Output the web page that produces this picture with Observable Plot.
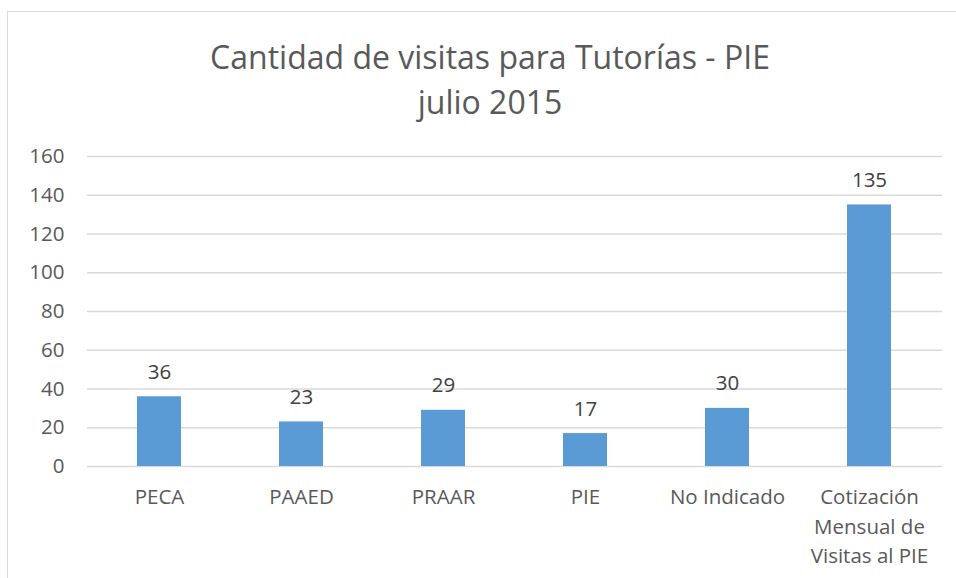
<!DOCTYPE html>
<html>
<head>
<meta charset="utf-8">
<script src="https://cdn.jsdelivr.net/npm/d3@7"></script>
<script src="https://cdn.jsdelivr.net/npm/@observablehq/plot@0.6"></script>
<style>
  html, body { margin: 0; padding: 0; background: #fff; overflow: hidden; width: 956px; height: 578px; }
  #wrap { position: relative; width: 956px; height: 578px; font-family: "Open Sans", sans-serif; }
  #frame { position: absolute; left: 7px; top: 11px; width: 980px; height: 600px; border: 1px solid #d9d9d9; box-sizing: border-box; }
  #title { position: absolute; left: 0; width: 980px; top: 34px; text-align: center; color: #595959; font-size: 32px; line-height: 45px; }
  #chart { position: absolute; left: 0; top: 130px; }
</style>
</head>
<body>
<div id="wrap">
  <div id="frame"></div>
  <div id="title">Cantidad de visitas para Tutorías - PIE<br>julio 2015</div>
  <div id="chart"></div>
</div>
<script>
const categories = ["PECA", "PAAED", "PRAAR", "PIE", "No Indicado", "Cotización\nMensual de\nVisitas al PIE"];
const values = [36, 23, 29, 17, 30, 135];
const yTicks = [0, 20, 40, 60, 80, 100, 120, 140, 160];

const data = categories.map((c, i) => ({category: c, value: values[i]}));

const chart = Plot.plot({
  width: 956,
  height: 448,
  marginLeft: 87,
  marginRight: 14,
  marginTop: 26,
  marginBottom: 112,
  style: {fontFamily: "Open Sans, sans-serif", background: "transparent"},
  x: {domain: categories, paddingInner: 0.69, paddingOuter: 0.345, label: null},
  y: {domain: [0, 160], label: null},
  marks: [
    Plot.ruleY(yTicks, {stroke: "#d9d9d9", strokeWidth: 1.3}),
    Plot.axisY({ticks: yTicks, tickSize: 0, tickPadding: 23, fontSize: 20.5, fill: "#595959", label: null}),
    Plot.axisX({tickSize: 0, tickPadding: 17, fontSize: 20.5, fill: "#595959", lineHeight: 1.44, label: null}),
    Plot.barY(data, {x: "category", y: "value", fill: "#5b9bd5"}),
    Plot.text(data, {x: "category", y: "value", text: d => String(d.value), dy: -18, lineAnchor: "bottom", fontSize: 20.5, fill: "#404040"})
  ]
});
document.getElementById("chart").appendChild(chart);
</script>
</body>
</html>
